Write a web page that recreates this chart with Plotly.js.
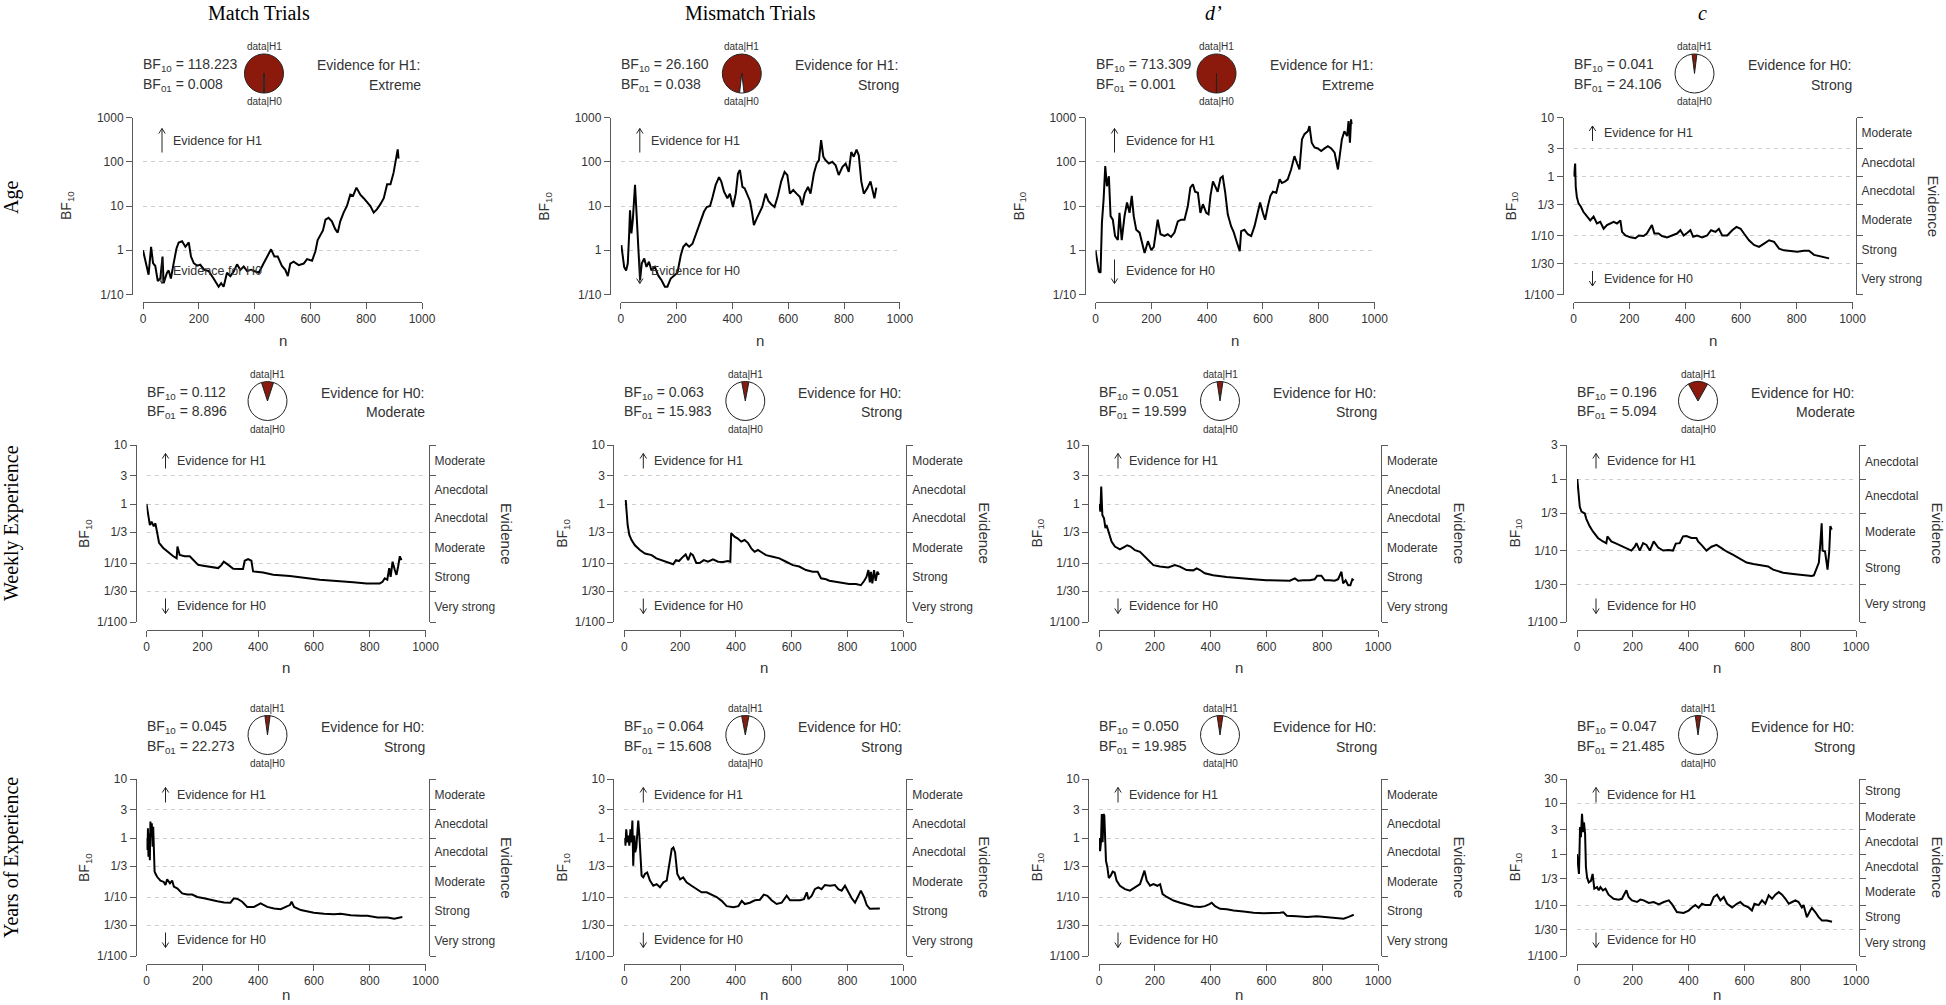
<!DOCTYPE html>
<html><head><meta charset="utf-8">
<script src="https://cdn.plot.ly/plotly-3.0.1.min.js"></script>
<style>html,body{margin:0;padding:0;background:#fff;}#chart{width:1946px;height:1005px;}</style>
</head><body><div id="chart"></div>
<script>
// ---------------- DATA ----------------
const rowNames = ['Age', 'Weekly Experience', 'Years of Experience'];
const colNames = ['Match Trials', 'Mismatch Trials', '<i>d’</i>', '<i>c</i>'];

const bf10 = [118.223, 26.160, 713.309, 0.041, 0.112, 0.063, 0.051, 0.196, 0.045, 0.064, 0.050, 0.047];
const bf01 = [0.008, 0.038, 0.001, 24.106, 8.896, 15.983, 19.599, 5.094, 22.273, 15.608, 19.985, 21.485];
const evidenceFor = ['H1', 'H1', 'H1', 'H0', 'H0', 'H0', 'H0', 'H0', 'H0', 'H0', 'H0', 'H0'];
const evidenceLevel = ['Extreme', 'Strong', 'Extreme', 'Strong', 'Moderate', 'Strong', 'Strong', 'Moderate', 'Strong', 'Strong', 'Strong', 'Strong'];

const nAgeMatch = [0,14,20,29,36,44,53,62,70,74,86,92,100,110,120,128,140,152,164,172,182,194,205,220,235,253,271,280,289,301,313,325,337,349,361,373,387,403,415,432,444,459,471,483,498,510,519,528,540,558,576,588,606,618,626,636,645,654,665,677,689,698,707,719,731,743,753,765,779,791,803,815,827,839,851,863,875,887,898,908,913,916];
const bfAgeMatch = [1,0.36,0.28,1.2,0.51,0.44,0.2,0.23,0.72,0.18,0.31,0.35,0.23,0.51,1.1,1.5,1.6,1.2,1.5,0.72,0.51,0.45,0.47,0.36,0.34,0.23,0.15,0.18,0.15,0.31,0.26,0.33,0.48,0.36,0.43,0.34,0.36,0.33,0.31,0.5,0.68,1.05,0.72,0.72,0.44,0.36,0.26,0.5,0.55,0.46,0.5,0.63,0.58,0.95,1.7,2.2,2.8,4.9,5.4,4.5,3.0,2.5,4.5,7.1,10,18,17,26,18,15,12.5,10,7.1,8.5,11,15,31,31,56,112,190,118];

const nAgeMismatch = [2,7,12,19,25,30,33,38,43,51,57,63,69,75,84,92,101,110,122,134,146,158,167,179,191,203,215,224,234,245,257,268,278,286,298,308,320,329,340,352,360,370,382,391,402,412,420,427,436,444,453,463,471,477,487,495,507,519,529,539,551,563,575,587,597,606,618,630,642,650,659,671,680,692,702,710,718,726,734,746,758,770,781,794,806,817,826,835,845,853,862,871,883,895,905,909,916];
const bfAgeMismatch = [1.3,0.71,0.42,0.35,0.5,2.4,8,2.4,4.8,30,5.6,0.83,0.21,0.5,0.65,0.42,0.55,0.35,0.42,0.27,0.21,0.15,0.15,0.23,0.27,0.31,0.77,1.2,1.4,1.2,1.4,2.2,3.4,4.4,7.4,9.5,10,16,30,45,36,21,15,19,9.5,19,54,65,27,25,19,13,6.8,3.7,5.2,6.8,9.5,19,13,11,9.5,17,36,59,50,19,23,19,16,10.4,19,27,19,54,91,108,310,130,108,91,100,83,50,76,91,59,166,130,187,140,36,19,25,36,21,15,26];

const nAgeDprime = [0,6,12,18,23,29,35,41,48,54,62,70,80,86,94,104,113,122,130,137,146,158,166,176,188,200,209,217,223,233,247,259,271,283,295,307,319,331,340,349,357,367,376,385,397,405,412,421,429,438,448,456,465,474,486,496,504,513,517,522,534,546,558,570,582,590,600,608,618,627,636,648,660,668,680,689,701,713,723,731,740,749,761,767,775,785,797,809,821,833,845,857,869,875,883,892,902,907,912,916,918];
const bfAgeDprime = [1,0.51,0.33,0.31,4.2,14,80,28,47,5.9,4.9,2.1,1.7,7,1.7,5.9,12,7,17,5.9,2.9,2.5,1.5,0.87,1.6,1.0,1.2,2.5,4.9,2.3,2.1,2.3,2.0,2.5,4.5,4.9,4.9,10,26,31,21,20,7,11,7,6.5,17,36,28,21,43,47,20,6.5,3.5,2.5,1.7,1.2,0.95,2.7,2.9,2.3,2.1,3.5,7,12,7,4.9,10,17,21,20,40,33,36,40,67,134,90,67,320,420,490,640,270,210,200,175,200,225,200,160,67,134,320,490,380,830,270,910,713];

const nAgeC = [0,6,8,12,18,26,36,48,60,72,84,96,108,120,132,144,156,168,174,186,204,222,234,251,263,275,281,290,305,317,335,353,371,383,395,407,419,429,443,461,479,493,509,521,533,551,569,584,599,611,629,647,665,683,701,719,737,754,778,802,826,844,862,886,916];
const bfAgeC = [1,1.66,0.67,0.45,0.35,0.31,0.25,0.21,0.18,0.21,0.16,0.17,0.13,0.15,0.16,0.17,0.16,0.18,0.115,0.1,0.093,0.09,0.1,0.098,0.108,0.13,0.15,0.108,0.108,0.098,0.093,0.1,0.108,0.123,0.1,0.11,0.123,0.095,0.1,0.093,0.1,0.123,0.115,0.13,0.1,0.1,0.123,0.14,0.13,0.108,0.083,0.069,0.064,0.073,0.083,0.078,0.06,0.056,0.055,0.053,0.055,0.055,0.047,0.044,0.041];

const nWeeklyMatch = [0,6,12,18,26,32,38,45,60,78,96,108,111,119,137,155,167,185,203,221,239,257,269,277,293,311,335,346,352,364,376,382,418,454,514,573,621,669,705,741,789,836,846,854,863,870,875,882,890,896,902,908,914];
const bfWeeklyMatch = [1,0.61,0.44,0.5,0.42,0.47,0.32,0.22,0.18,0.15,0.13,0.12,0.19,0.137,0.13,0.13,0.113,0.093,0.09,0.088,0.085,0.082,0.093,0.105,0.093,0.08,0.079,0.079,0.109,0.116,0.109,0.072,0.069,0.063,0.06,0.055,0.052,0.05,0.048,0.047,0.045,0.045,0.048,0.055,0.052,0.082,0.058,0.105,0.076,0.063,0.088,0.13,0.112];

const nWeeklyMismatch = [5,8,12,18,26,38,56,74,98,115,139,163,175,185,196,211,220,229,238,246,258,270,285,300,318,336,354,371,380,383,395,407,419,431,443,455,467,479,490,508,532,556,580,604,627,651,675,693,705,723,735,758,782,806,830,848,860,868,875,880,884,889,895,901,907,913];
const bfWeeklyMismatch = [1.17,0.74,0.44,0.3,0.245,0.2,0.166,0.145,0.136,0.12,0.108,0.1,0.095,0.112,0.108,0.128,0.14,0.112,0.145,0.136,0.1,0.1,0.112,0.105,0.115,0.105,0.104,0.108,0.105,0.32,0.28,0.26,0.23,0.245,0.22,0.177,0.155,0.166,0.155,0.136,0.128,0.12,0.105,0.092,0.087,0.076,0.071,0.071,0.055,0.053,0.05,0.048,0.045,0.044,0.044,0.042,0.05,0.058,0.076,0.047,0.071,0.045,0.076,0.05,0.071,0.063];

const nWeeklyDprime = [1,5,8,12,18,23,27,36,45,57,75,93,101,113,129,147,171,195,218,248,272,290,314,338,350,362,379,409,457,505,552,600,648,684,702,714,732,755,773,782,797,809,827,845,857,869,875,884,893,901,908,913];
const bfWeeklyDprime = [1,0.74,1.97,0.65,0.57,0.39,0.44,0.3,0.23,0.19,0.17,0.19,0.2,0.19,0.165,0.155,0.12,0.092,0.087,0.084,0.092,0.087,0.076,0.075,0.081,0.076,0.067,0.062,0.058,0.055,0.053,0.051,0.05,0.05,0.055,0.05,0.051,0.051,0.053,0.061,0.061,0.051,0.051,0.05,0.053,0.071,0.045,0.051,0.042,0.042,0.053,0.051];

const nWeeklyC = [1,5,10,16,28,33,45,57,75,93,105,109,123,141,159,177,195,207,213,225,237,249,261,275,291,309,327,344,354,368,380,392,410,428,434,446,464,482,500,518,536,560,584,608,632,656,685,703,721,739,775,811,841,849,859,867,873,877,880,889,895,898,904,908,913];
const bfWeeklyC = [1,0.57,0.41,0.35,0.33,0.28,0.22,0.185,0.15,0.134,0.127,0.158,0.134,0.125,0.117,0.108,0.1,0.113,0.127,0.1,0.127,0.12,0.1,0.134,0.11,0.1,0.102,0.1,0.125,0.127,0.158,0.16,0.15,0.15,0.134,0.12,0.1,0.113,0.12,0.108,0.097,0.087,0.076,0.068,0.065,0.062,0.06,0.054,0.051,0.049,0.047,0.045,0.044,0.045,0.057,0.068,0.14,0.24,0.1,0.097,0.066,0.054,0.097,0.22,0.196];

const nYearsMatch = [0,2,5,7,10,12,14,17,19,22,24,26,29,32,38,50,62,68,74,84,92,98,110,128,146,164,182,206,230,254,278,301,313,328,343,361,385,409,421,433,457,481,499,514,520,529,553,577,600,636,672,696,732,768,792,828,864,888,906,917];
const bfYearsMatch = [1,0.63,1.46,0.48,1.2,0.42,1.9,1.05,1.77,0.71,1.55,0.55,0.27,0.25,0.22,0.19,0.18,0.16,0.2,0.17,0.19,0.15,0.14,0.115,0.11,0.11,0.1,0.095,0.089,0.085,0.081,0.08,0.095,0.092,0.083,0.068,0.068,0.078,0.073,0.068,0.064,0.062,0.068,0.073,0.083,0.068,0.06,0.056,0.054,0.052,0.051,0.052,0.049,0.048,0.048,0.045,0.045,0.043,0.045,0.046];

const nYearsMismatch = [0,4,7,11,14,18,22,25,29,32,36,39,43,47,50,54,57,62,68,74,82,92,104,116,128,140,152,158,170,176,182,190,200,211,223,241,259,277,295,313,331,349,367,391,409,421,432,450,468,486,500,513,528,546,564,582,594,612,630,644,654,660,672,683,695,707,719,737,755,767,779,791,803,815,827,839,848,859,869,880,898,916];
const bfYearsMismatch = [1,0.74,1.4,0.84,1.1,0.74,1.4,0.84,1.97,0.34,1.1,0.57,0.69,1.4,1.97,1.1,0.5,0.23,0.215,0.245,0.26,0.19,0.155,0.165,0.146,0.177,0.19,0.3,0.65,0.69,0.57,0.245,0.2,0.215,0.177,0.155,0.136,0.12,0.12,0.11,0.1,0.086,0.07,0.067,0.07,0.086,0.076,0.08,0.088,0.09,0.11,0.105,0.088,0.076,0.08,0.105,0.088,0.088,0.088,0.092,0.12,0.092,0.105,0.136,0.146,0.136,0.16,0.155,0.16,0.136,0.128,0.155,0.12,0.095,0.08,0.105,0.128,0.1,0.073,0.063,0.063,0.064];

const nYearsDprime = [0,4,7,10,13,16,19,22,25,30,35,42,49,56,63,75,93,111,129,147,157,163,171,183,195,209,219,228,243,267,291,315,339,362,380,396,404,416,434,458,482,518,554,590,626,649,661,673,709,745,781,817,853,877,895,913];
const bfYearsDprime = [1,0.6,0.85,2.55,0.85,2.55,2.4,0.5,0.41,0.32,0.21,0.23,0.27,0.26,0.19,0.155,0.136,0.128,0.146,0.165,0.23,0.28,0.19,0.155,0.165,0.155,0.165,0.112,0.1,0.087,0.08,0.074,0.069,0.068,0.07,0.076,0.08,0.07,0.063,0.062,0.059,0.057,0.054,0.053,0.053,0.054,0.055,0.048,0.047,0.046,0.047,0.045,0.043,0.043,0.046,0.05];

const nYearsC = [0,4,7,11,14,18,22,25,29,32,36,42,50,56,62,72,78,84,93,102,113,131,149,161,170,177,185,197,215,227,239,257,275,293,311,329,341,358,382,400,412,424,436,448,460,478,490,502,514,526,538,556,573,585,597,615,627,636,651,663,675,687,699,711,723,735,747,759,771,783,794,806,812,824,836,842,854,866,878,896,914];
const bfYearsC = [1,0.56,0.41,3.4,2.15,6.2,2.7,4.2,2.5,0.56,0.35,0.28,0.3,0.41,0.21,0.225,0.195,0.225,0.195,0.21,0.16,0.133,0.128,0.133,0.165,0.195,0.144,0.124,0.115,0.128,0.124,0.11,0.115,0.103,0.115,0.124,0.103,0.073,0.07,0.078,0.09,0.1,0.088,0.106,0.1,0.1,0.144,0.16,0.124,0.144,0.106,0.09,0.106,0.115,0.1,0.09,0.078,0.106,0.1,0.124,0.106,0.155,0.133,0.16,0.18,0.16,0.133,0.106,0.115,0.124,0.115,0.09,0.1,0.058,0.078,0.088,0.073,0.058,0.05,0.05,0.047];

const seriesN = [nAgeMatch, nAgeMismatch, nAgeDprime, nAgeC, nWeeklyMatch, nWeeklyMismatch, nWeeklyDprime, nWeeklyC, nYearsMatch, nYearsMismatch, nYearsDprime, nYearsC];
const seriesBF = [bfAgeMatch, bfAgeMismatch, bfAgeDprime, bfAgeC, bfWeeklyMatch, bfWeeklyMismatch, bfWeeklyDprime, bfWeeklyC, bfYearsMatch, bfYearsMismatch, bfYearsDprime, bfYearsC];

// tick labels
const xTicks = [0, 200, 400, 600, 800, 1000];
const tickWide = [0.1, 1, 10, 100, 1000];
const tickWideText = ['1/10', '1', '10', '100', '1000'];
const tickTo3 = [0.01, 1/30, 0.1, 1/3, 1, 3];
const tickTo3Text = ['1/100', '1/30', '1/10', '1/3', '1', '3'];
const tickTo10 = [0.01, 1/30, 0.1, 1/3, 1, 3, 10];
const tickTo10Text = ['1/100', '1/30', '1/10', '1/3', '1', '3', '10'];
const tickTo30 = [0.01, 1/30, 0.1, 1/3, 1, 3, 10, 30];
const tickTo30Text = ['1/100', '1/30', '1/10', '1/3', '1', '3', '10', '30'];
const evidenceTo3 = ['Very strong', 'Strong', 'Moderate', 'Anecdotal', 'Anecdotal'];
const evidenceTo10 = ['Very strong', 'Strong', 'Moderate', 'Anecdotal', 'Anecdotal', 'Moderate'];
const evidenceTo30 = ['Very strong', 'Strong', 'Moderate', 'Anecdotal', 'Anecdotal', 'Moderate', 'Strong'];
const panelScale = ['wide', 'wide', 'wide', 'to10', 'to10', 'to10', 'to10', 'to3', 'to10', 'to10', 'to10', 'to30'];

// ---------------- LAYOUT CONSTANTS ----------------
const W = 1946, H = 1005;
const SANS = 'Liberation Sans, Arial, Helvetica, sans-serif';
const SERIF = 'Liberation Serif, Times New Roman, serif';
const TXT = '#333333', AX = '#5a5a5a', RED = '#8b1a0c';
const colX0 = [146.5, 624.3, 1099, 1577];
const rowShift = [-3.5, 0, 0];
const plotW = 279;
const rowTop = [117.5, 445, 779];
const rowBot = [294.5, 622, 956];
const headerX = [259, 750, 1213, 1702];
const rowLabelX = 11;
const rowLabelY = [198, 523, 858];

const scales = {
  wide: {ticks: tickWide, text: tickWideText, evidence: null},
  to3: {ticks: tickTo3, text: tickTo3Text, evidence: evidenceTo3},
  to10: {ticks: tickTo10, text: tickTo10Text, evidence: evidenceTo10},
  to30: {ticks: tickTo30, text: tickTo30Text, evidence: evidenceTo30}
};

const px = v => v / W;
const py = v => 1 - v / H;

const data = [];
const layout = {
  width: W, height: H, margin: {l: 0, r: 0, t: 0, b: 0},
  paper_bgcolor: '#ffffff', plot_bgcolor: 'rgba(0,0,0,0)',
  showlegend: false, annotations: [], shapes: [],
  font: {family: SANS, color: TXT}
};
const ann = layout.annotations;
let extraAxis = 13;

function txt(text, x, y, size, opts) {
  ann.push(Object.assign({text: text, x: x, y: y, xref: 'paper', yref: 'paper', showarrow: false,
    xanchor: 'center', yanchor: 'middle', font: {family: SANS, size: size, color: TXT}}, opts || {}));
}
// arrow drawn as a paper-space path (shaft + open head)
function arrow(x, yHead, yTail) {
  const dir = yTail > yHead ? 1 : -1;
  const hx = 3.2, hy = 5 * dir;
  const path = 'M' + px(x) + ',' + py(yTail) + ' L' + px(x) + ',' + py(yHead) +
    ' M' + px(x - hx) + ',' + py(yHead + hy) + ' L' + px(x) + ',' + py(yHead) + ' L' + px(x + hx) + ',' + py(yHead + hy);
  layout.shapes.push({type: 'path', xref: 'paper', yref: 'paper', path: path, line: {color: '#222222', width: 1}});
}

// column headers, row labels
colNames.forEach((t, c) => txt(t, px(headerX[c]), 1, 20, {yanchor: 'top', font: {family: SERIF, size: 20, color: '#000'}}));
rowNames.forEach((t, r) => txt(t, px(rowLabelX), py(rowLabelY[r]), 20, {textangle: -90, font: {family: SERIF, size: 20, color: '#000'}}));

for (let r = 0; r < 3; r++) {
  for (let c = 0; c < 4; c++) {
    const k = r * 4 + c;
    const x0 = colX0[c] + rowShift[r], x1 = x0 + plotW, top = rowTop[r], bot = rowBot[r];
    const sc = scales[panelScale[k]];
    const lo = sc.ticks[0], hi = sc.ticks[sc.ticks.length - 1];
    const yrange = [Math.log10(lo), Math.log10(hi)];
    const xid = k === 0 ? 'x' : 'x' + (k + 1);
    const yid = k === 0 ? 'y' : 'y' + (k + 1);
    const xa = k === 0 ? 'xaxis' : 'xaxis' + (k + 1);
    const ya = k === 0 ? 'yaxis' : 'yaxis' + (k + 1);
    const wide = sc.evidence === null;

    layout[xa] = {domain: [px(x0), px(x1)], range: [0, 1000], anchor: 'free', position: py(bot + 7.5),
      showline: true, linecolor: AX, linewidth: 1, ticks: 'outside', ticklen: 6, tickcolor: AX,
      tickvals: xTicks, tickfont: {family: SANS, size: 12, color: TXT},
      showgrid: false, zeroline: false, fixedrange: true};
    layout[ya] = {domain: [py(bot), py(top)], type: 'log', range: yrange, anchor: 'free', position: px(x0 - 11),
      showline: true, linecolor: AX, linewidth: 1, ticks: 'outside', ticklen: 6, tickcolor: AX,
      tickvals: sc.ticks, ticktext: sc.text, tickfont: {family: SANS, size: 12, color: TXT},
      showgrid: true, gridcolor: '#cdcdcd', griddash: '4px,4px', gridwidth: 1, zeroline: false, fixedrange: true};

    // BF line
    data.push({type: 'scatter', mode: 'lines', x: seriesN[k], y: seriesBF[k], xaxis: xid, yaxis: yid,
      line: {color: '#000000', width: 2}, hoverinfo: 'skip', showlegend: false});

    // reference line at BF = 1
    layout.shapes.push({type: 'line', xref: xid + ' domain', yref: yid, x0: 0, x1: 1, y0: 0, y1: 0,
      line: {color: '#444444', width: 1.5}, layer: 'above'});

    // right evidence axis
    if (!wide) {
      const tId = extraAxis++, lId = extraAxis++;
      layout['yaxis' + tId] = {overlaying: yid, side: 'right', anchor: 'free', position: px(x1 + 3), type: 'log',
        range: yrange, tickvals: sc.ticks, showticklabels: false, ticks: 'outside', ticklen: 6, tickcolor: AX,
        showline: true, linecolor: AX, linewidth: 1, showgrid: false, zeroline: false, fixedrange: true};
      const mids = sc.evidence.map((_, i) => Math.sqrt(sc.ticks[i] * sc.ticks[i + 1]));
      layout['yaxis' + lId] = {overlaying: yid, side: 'right', anchor: 'free', position: px(x1 + 8), type: 'log',
        range: yrange, tickvals: mids, ticktext: sc.evidence, ticks: '', showline: false, showgrid: false,
        zeroline: false, tickfont: {family: SANS, size: 12, color: TXT}, fixedrange: true};
      [tId, lId].forEach(id => data.push({type: 'scatter', mode: 'lines', x: [null], y: [null], xaxis: xid, yaxis: 'y' + id,
        hoverinfo: 'skip', showlegend: false}));
      txt('Evidence', px(x1 + 81), py((top + bot) / 2), 15, {textangle: 90});
    }

    // pie
    const p = bf10[k] / (1 + bf10[k]);
    const cx = x0 + 121, cy = top - 44, rad = 19.5;
    data.push({type: 'pie', values: [p, 1 - p], labels: ['data|H1', 'data|H0'], sort: false, direction: 'clockwise',
      rotation: -p * 180, textinfo: 'none', hoverinfo: 'skip', showlegend: false,
      marker: {colors: [RED, '#ffffff'], line: {color: '#222222', width: 1}},
      domain: {x: [px(cx - rad), px(cx + rad)], y: [py(cy + rad), py(cy - rad)]}});
    txt('data|H1', px(cx), py(top - 71), 10);
    txt('data|H0', px(cx), py(top - 15.5), 10);

    // header texts
    txt('BF<sub>10</sub> = ' + bf10[k].toFixed(3), px(x0 - 2), py(top - 52.5), 14, {xanchor: 'left'});
    txt('BF<sub>01</sub> = ' + bf01[k].toFixed(3), px(x0 - 2), py(top - 32.5), 14, {xanchor: 'left'});
    txt('Evidence for ' + evidenceFor[k] + ':', px(x1 + 1), py(top - 52.5), 14, {xanchor: 'right'});
    txt(evidenceLevel[k], px(x1 + 1), py(top - 32.5), 14, {xanchor: 'right'});

    // in-plot arrows
    const a = wide ? 23 : 16, len = wide ? 24 : 15;
    txt('Evidence for H1', px(x0 + 28), py(top + a), 12.5, {xanchor: 'left'});
    txt('Evidence for H0', px(x0 + 28), py(bot - a), 12.5, {xanchor: 'left'});
    arrow(x0 + 19, top + a - len / 2, top + a + len / 2);
    arrow(x0 + 19, bot - a + len / 2, bot - a - len / 2);

    // axis titles
    txt('BF<sub>10</sub>', px(x0 + (wide ? -76 : -62)), py((top + bot) / 2), 14, {textangle: -90});
    txt('n', px((x0 + x1) / 2), py(Math.min(bot + 45.5, H - 11)), 15);
  }
}

Plotly.newPlot('chart', data, layout, {staticPlot: true, displayModeBar: false});
</script>
</body></html>
